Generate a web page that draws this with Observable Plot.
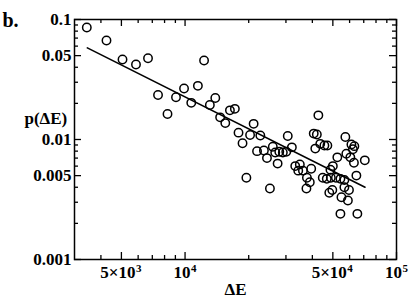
<!DOCTYPE html>
<html><head><meta charset="utf-8">
<script src="https://cdn.jsdelivr.net/npm/d3@7"></script>
<script src="https://cdn.jsdelivr.net/npm/@observablehq/plot@0.6"></script>
<style>
body{margin:0;background:#fff;}
#wrap{width:409px;height:300px;}
#wrap svg text{font-family:"Liberation Serif","Times New Roman",serif !important;font-weight:bold !important;}
</style></head><body><div id="wrap"></div>
<script>
const energy = [3430,4250,5060,5860,6680,12300,7450,8260,9060,9890,
  11500,10700,13900,13100,14650,15500,16300,17200,17900,18700,
  21100,20300,22700,21900,23600,24400,26000,26700,27400,19500,
  25200,27900,29000,30100,30600,32000,33200,34300,34900,36100,
  39500,37700,38900,37500,42700,40600,42000,41300,43600,45600,
  47100,50000,48700,44800,46800,48900,51700,54300,56700,49700,
  48100,57300,61200,63200,62200,57900,60500,52500,62900,70800,
  64600,56700,59600,54900,58900,54300,65300];
const prob = [0.0858,0.0668,0.0464,0.0422,0.0476,0.0455,0.0235,0.0163,0.0225,0.0266,
  0.0280,0.0202,0.0222,0.0194,0.0153,0.0137,0.0175,0.0180,0.0114,0.0093,
  0.0135,0.0109,0.0108,0.0080,0.0081,0.0070,0.0087,0.0078,0.0063,0.0048,
  0.0039,0.0079,0.0078,0.0079,0.0107,0.0086,0.0060,0.0055,0.0062,0.0055,
  0.0057,0.0048,0.0044,0.0039,0.0159,0.0112,0.0110,0.0084,0.0092,0.0089,
  0.0089,0.0060,0.0056,0.0048,0.0047,0.0048,0.0048,0.0047,0.0046,0.0038,
  0.0036,0.0105,0.0091,0.0088,0.0083,0.0076,0.0071,0.0071,0.0064,0.0067,
  0.0050,0.0040,0.0038,0.0033,0.0031,0.0024,0.0024];
const fitEnergy = [3450, 71000];
const fitProb = [0.058, 0.0040];
// x tick labels: mantissa×10^exponent
const xFiveTicks = [5000, 50000];
const xFiveBase = ["5×10", "5×10"];
const xFiveExp = ["3", "4"];
const xTenTicks = [10000, 100000];
const xTenBase = ["10", "10"];
const xTenExp = ["4", "5"];
const xMajorTicks = [5000, 10000, 50000, 100000];
const xMinorTicks = [4000,6000,7000,8000,9000,20000,30000,40000,60000,70000,80000,90000];
const yMajorTicks = [0.001, 0.005, 0.01, 0.05, 0.1];
const yTickLabels = ["0.001", "0.005", "0.01", "0.05", "0.1"];
const yMinorTicks = [0.002,0.003,0.004,0.006,0.007,0.008,0.009,0.02,0.03,0.04,0.06,0.07,0.08,0.09];
const panelLabel = "b.";
const xLabel = "ΔE";
const yLabel = "p(ΔE)";

const points = energy.map((e, i) => ({e, p: prob[i]}));
const fit = fitEnergy.map((e, i) => ({e, p: fitProb[i]}));
const fives = xFiveTicks.map((x, i) => ({x, base: xFiveBase[i], exp: xFiveExp[i]}));
const tens = xTenTicks.map((x, i) => ({x, base: xTenBase[i], exp: xTenExp[i]}));

const W = 409, H = 300, mL = 74, mR = 13, mT = 19, mB = 41;
const fh = H - mT - mB, fw = W - mL - mR;
const major = 7, minor = 4;
const FS = 17, ES = 11;

const chart = Plot.plot({
  width: W, height: H,
  marginLeft: mL, marginRight: mR, marginTop: mT, marginBottom: mB,
  style: {fontFamily: "Liberation Serif", fontWeight: "bold", fontSize: "17px", color: "black", background: "white"},
  x: {type: "log", domain: [3000, 100000], axis: null},
  y: {type: "log", domain: [0.001, 0.1], axis: null},
  marks: [
    Plot.frame({stroke: "black", strokeWidth: 1.5}),
    Plot.tickX(xMajorTicks, {x: d => d, insetTop: fh - major, stroke: "black", strokeWidth: 1.3}),
    Plot.tickX(xMinorTicks, {x: d => d, insetTop: fh - minor, stroke: "black", strokeWidth: 1.3}),
    Plot.tickX(xMajorTicks, {x: d => d, insetBottom: fh - major, stroke: "black", strokeWidth: 1.3}),
    Plot.tickX(xMinorTicks, {x: d => d, insetBottom: fh - minor, stroke: "black", strokeWidth: 1.3}),
    Plot.tickY(yMajorTicks, {y: d => d, insetRight: fw - major, stroke: "black", strokeWidth: 1.3}),
    Plot.tickY(yMinorTicks, {y: d => d, insetRight: fw - minor, stroke: "black", strokeWidth: 1.3}),
    Plot.tickY(yMajorTicks, {y: d => d, insetLeft: fw - major, stroke: "black", strokeWidth: 1.3}),
    Plot.tickY(yMinorTicks, {y: d => d, insetLeft: fw - minor, stroke: "black", strokeWidth: 1.3}),
    // x tick labels
    Plot.text(fives, {x: "x", text: "base", frameAnchor: "bottom", lineAnchor: "bottom", textAnchor: "end", dx: 14, dy: 18, fontSize: FS}),
    Plot.text(fives, {x: "x", text: "exp", frameAnchor: "bottom", lineAnchor: "bottom", textAnchor: "start", dx: 14.5, dy: 12, fontSize: ES}),
    Plot.text(tens, {x: "x", text: "base", frameAnchor: "bottom", lineAnchor: "bottom", textAnchor: "end", dx: 5.5, dy: 18, fontSize: FS}),
    Plot.text(tens, {x: "x", text: "exp", frameAnchor: "bottom", lineAnchor: "bottom", textAnchor: "start", dx: 6, dy: 12, fontSize: ES}),
    // y tick labels
    Plot.text(yMajorTicks, {y: d => d, text: d => yTickLabels[yMajorTicks.indexOf(d)], frameAnchor: "left", textAnchor: "end", dx: -3, fontSize: FS}),
    Plot.line(fit, {x: "e", y: "p", stroke: "black", strokeWidth: 1.6}),
    Plot.dot(points, {x: "e", y: "p", r: 4.2, stroke: "black", strokeWidth: 1.5, fill: "none"}),
    Plot.text([xLabel], {frameAnchor: "bottom", lineAnchor: "bottom", dy: 35, fontSize: 17}),
    Plot.text([yLabel], {frameAnchor: "left", dx: -50, dy: -21, fontSize: 17}),
    Plot.text([panelLabel], {frameAnchor: "top-left", dx: -72, dy: -7, textAnchor: "start", fontSize: 20})
  ]
});
document.getElementById("wrap").appendChild(chart);
</script>
</body></html>
